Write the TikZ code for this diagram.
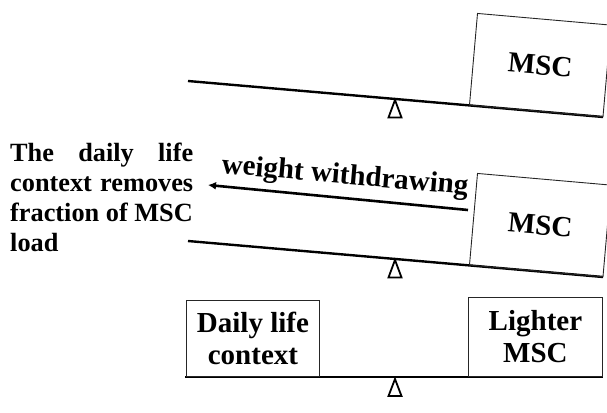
\documentclass[tikz,border=0pt]{standalone}
\usepackage{fontspec}
\setmainfont{Liberation Serif}
\usetikzlibrary{arrows.meta}
\tikzset{
  lbl/.style={font=\bfseries\fontsize{29}{33}\selectfont, align=center, inner sep=0pt},
  boxnode/.style={draw=black!85, line width=0.9pt, font=\bfseries\fontsize{29}{32}\selectfont, align=center, inner sep=0pt},
  beam/.style={line width=2.4pt, line cap=butt},
  pivot/.style={draw, line width=1.8pt, fill=white, line join=miter},
  arrowline/.style={line width=2.6pt, -{Latex[length=8pt,width=8pt]}}
}
\begin{document}
\begin{tikzpicture}[x=1pt,y=-1pt]
\useasboundingbox (0,0) rectangle (607,412);
% top seesaw
\coordinate (t1) at (188,81);
\coordinate (t2) at (603,117);
\draw[beam] (t1) -- (t2);
\draw[pivot] (395,100) -- (401.5,117.5) -- (388.5,117.5) -- cycle;
\node[boxnode, rotate=-5, minimum width=134pt, minimum height=92pt, anchor=south west] (msc1) at (469,105.5) {MSC};
% middle seesaw
\coordinate (m1) at (188,241);
\coordinate (m2) at (603,277);
\draw[beam] (m1) -- (m2);
\draw[pivot] (395,260) -- (401.5,277.5) -- (388.5,277.5) -- cycle;
\node[boxnode, rotate=-5, minimum width=134pt, minimum height=92pt, anchor=south west] (msc2) at (469,265.5) {MSC};
\coordinate (as) at (468,210);
\coordinate (ae) at (208,185);
\draw[arrowline] (as) -- (ae);
\node[lbl, rotate=-5] (ww) at (345,177) {weight withdrawing};
\node[font=\bfseries\fontsize{26.3}{30}\selectfont, text width=183pt, align=justify, inner sep=0pt, anchor=north west] (desc) at (10,143)
  {\hyphenpenalty=10000 \hbadness=10000 The daily life\linebreak context removes\linebreak fraction of MSC\\ load};
% bottom seesaw
\coordinate (b1) at (185,377);
\coordinate (b2) at (603,377);
\draw[beam] (b1) -- (b2);
\draw[pivot] (395,379) -- (401.5,396) -- (388.5,396) -- cycle;
\node[boxnode, minimum width=133pt, minimum height=76pt, anchor=south west] (dlc) at (186,377) {Daily life\\context};
\node[boxnode, minimum width=134pt, minimum height=79pt, anchor=south west] (lmsc) at (468,377) {Lighter\\MSC};
\end{tikzpicture}
\end{document}
